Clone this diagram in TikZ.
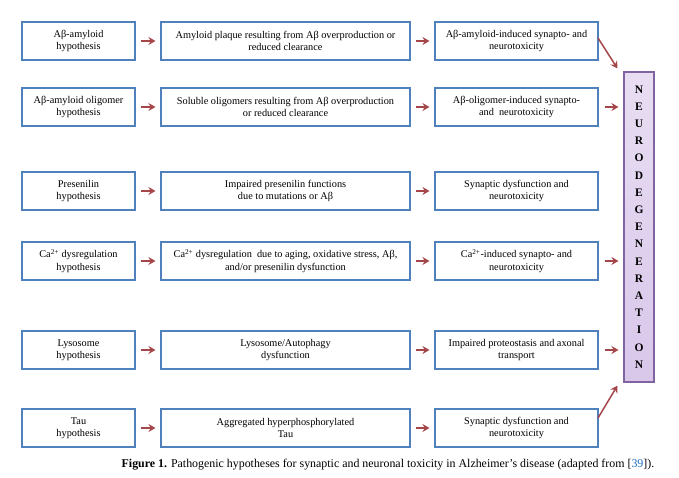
\documentclass[tikz,border=0pt]{standalone}
\usepackage{fontspec}
\setmainfont{Liberation Serif}
\definecolor{boxblue}{HTML}{4F81BD}
\definecolor{arrred}{HTML}{A5474A}
\definecolor{neurofill}{HTML}{D9C7EA}
\definecolor{neurodraw}{HTML}{8064A2}
\definecolor{citeblue}{HTML}{1F6FC0}
\tikzset{
  box/.style={draw=boxblue, line width=1.1pt, fill=white, align=center, inner sep=1pt,
    font=\fontsize{10.3}{12.5}\selectfont, minimum height=38pt},
  c1/.style={box, minimum width=113pt},
  c2/.style={box, minimum width=249pt},
  c3/.style={box, minimum width=163pt},
  arr/.style={draw=arrred, line width=1.5pt, -{Stealth[length=7pt,width=8pt]}}
}
\usetikzlibrary{arrows.meta}
\begin{document}
\begin{tikzpicture}[x=1pt, y=-1pt]
	\useasboundingbox (0,0) rectangle (679,477);
	\node[c1] (h1) at (78.5,41) {Aβ-amyloid\\hypothesis};
	\node[c2] (m1) at (285.5,41) {Amyloid plaque resulting from Aβ overproduction or\\reduced clearance};
	\node[c3] (r1) at (516.5,41) {Aβ-amyloid-induced synapto- and\\neurotoxicity};
	\node[c1] (h2) at (78.5,107) {Aβ-amyloid oligomer\\hypothesis};
	\node[c2] (m2) at (285.5,107) {Soluble oligomers resulting from Aβ overproduction\\or reduced clearance};
	\node[c3] (r2) at (516.5,107) {Aβ-oligomer-induced synapto-\\and~ neurotoxicity};
	\node[c1] (h3) at (78.5,191) {Presenilin\\hypothesis};
	\node[c2] (m3) at (285.5,191) {Impaired presenilin functions\\due to mutations or Aβ};
	\node[c3] (r3) at (516.5,191) {Synaptic dysfunction and\\neurotoxicity};
	\node[c1] (h4) at (78.5,261) {Ca\textsuperscript{2+} dysregulation\\hypothesis};
	\node[c2] (m4) at (285.5,261) {Ca\textsuperscript{2+} dysregulation~ due to aging, oxidative stress, Aβ,\\and/or presenilin dysfunction};
	\node[c3] (r4) at (516.5,261) {Ca\textsuperscript{2+}-induced synapto- and\\neurotoxicity};
	\node[c1] (h5) at (78.5,350) {Lysosome\\hypothesis};
	\node[c2] (m5) at (285.5,350) {Lysosome/Autophagy\\dysfunction};
	\node[c3] (r5) at (516.5,350) {Impaired proteostasis and axonal\\transport};
	\node[c1] (h6) at (78.5,428) {Tau\\hypothesis};
	\node[c2] (m6) at (285.5,428) {Aggregated hyperphosphorylated\\Tau};
	\node[c3] (r6) at (516.5,428) {Synaptic dysfunction and\\neurotoxicity};
	% neurodegeneration bar
	\node[draw=neurodraw, line width=1.1pt, top color=neurofill!60, bottom color=neurofill,
	  minimum width=30pt, minimum height=310pt, align=center, inner sep=0pt,
	  font=\fontsize{11.5}{17.2}\selectfont\bfseries] (nd) at (639,227)
	  {N\\E\\U\\R\\O\\D\\E\\G\\E\\N\\E\\R\\A\\T\\I\\O\\N};
	\foreach \i in {1,...,6} {
		\draw[arr] ([xshift=5pt]h\i.east) -- ([xshift=-5pt]m\i.west);
		\draw[arr] ([xshift=5pt]m\i.east) -- ([xshift=-5pt]r\i.west);
	}
	\coordinate (e1) at (598,38);
	\coordinate (e6) at (598,418);
	\draw[arr] (e1) -- ([xshift=-6pt,yshift=3pt]nd.north west);
	\draw[arr] ([xshift=6pt]r2.east) -- ([xshift=-5pt]nd.west |- r2.east);
	\draw[arr] ([xshift=6pt]r4.east) -- ([xshift=-5pt]nd.west |- r4.east);
	\draw[arr] ([xshift=6pt]r5.east) -- ([xshift=-5pt]nd.west |- r5.east);
	\draw[arr] (e6) -- ([xshift=-6pt,yshift=-3pt]nd.south west);
	% caption
	\node[font=\fontsize{11.9}{13}\selectfont] (cap) at (388,465)
	  {\textbf{Figure 1.} Pathogenic hypotheses for synaptic and neuronal toxicity in Alzheimer's disease (adapted from [\textcolor{citeblue}{39}]).};
\end{tikzpicture}
\end{document}
